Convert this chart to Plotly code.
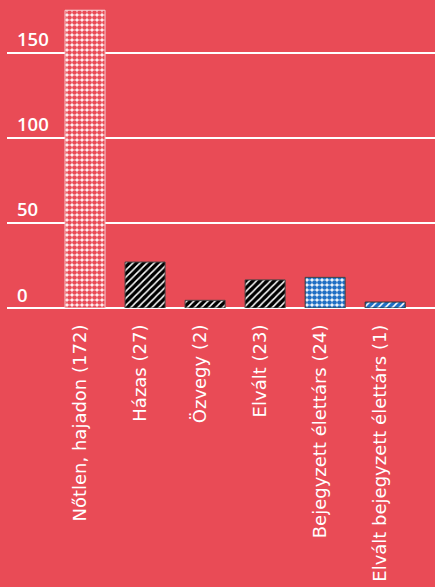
import plotly.graph_objects as go

categories = ["Nőtlen, hajadon (172)", "Házas (27)", "Özvegy (2)", "Elvált (23)",
              "Bejegyzett élettárs (24)", "Elvált bejegyzett élettárs (1)"]
values = [175, 27, 4.5, 16.5, 18, 3.5]
tick_vals = [0, 50, 100, 150]
tick_text = ["0", "50", "100", "150"]

BG = "#E94B56"
BLUE = "#1F6FC4"
pat_shape = [".", "/", "/", "/", ".", "/"]
pat_fg = [BG, "#FFFFFF", "#FFFFFF", "#FFFFFF", BLUE, "#FFFFFF"]
pat_bg = ["#FFFFFF", "#000000", "#000000", "#000000", "#FFFFFF", BLUE]
pat_size = [5, 5, 5, 5, 5, 5]
pat_sol = [0.7, 0.3, 0.3, 0.3, 0.7, 0.3]
line_col = ["#F5C9CC", "#444444", "#444444", "#444444", "#444444", "#333333"]

fig = go.Figure()
for i, (cat, val) in enumerate(zip(categories, values)):
    fig.add_trace(go.Bar(
        x=[cat], y=[val],
        marker=dict(
            color=pat_bg[i],
            line=dict(color=line_col[i], width=1),
            pattern=dict(shape=pat_shape[i], fgcolor=pat_fg[i], bgcolor=pat_bg[i],
                         fgopacity=1, size=pat_size[i], solidity=pat_sol[i],
                         fillmode="replace"),
        ),
        hoverinfo="skip",
    ))

fig.update_layout(
    width=435, height=587,
    paper_bgcolor=BG, plot_bgcolor=BG,
    margin=dict(l=7, r=0, t=0, b=279),
    barmode="overlay",
    bargap=1/3,
    showlegend=False,
    font=dict(family="DejaVu Sans", color="#FFFFFF"),
)
fig.update_xaxes(
    categoryorder="array", categoryarray=categories,
    range=[-1.3, 5.83],
    tickangle=-90, ticks="", showgrid=False, zeroline=False, showline=False,
    tickfont=dict(size=18, family="DejaVu Sans", color="#FFFFFF"),
    ticklabelstandoff=12, ticklabelshift=-5, automargin=False,
)
fig.update_yaxes(
    range=[0, 181],
    tickvals=tick_vals, ticktext=tick_text,
    ticklabelposition="inside top", ticks="",
    showgrid=True, gridcolor="#FFFFFF", gridwidth=1.5,
    zeroline=True, zerolinecolor="#FFFFFF", zerolinewidth=1.5,
    tickfont=dict(size=18.5, family="Open Sans", weight=600, color="#FFFFFF"),
    ticklabelstandoff=7, automargin=False,
)

fig.write_html("out.html", config={"displayModeBar": False},
               post_script="document.body.style.margin='0';document.body.style.overflow='hidden';")
